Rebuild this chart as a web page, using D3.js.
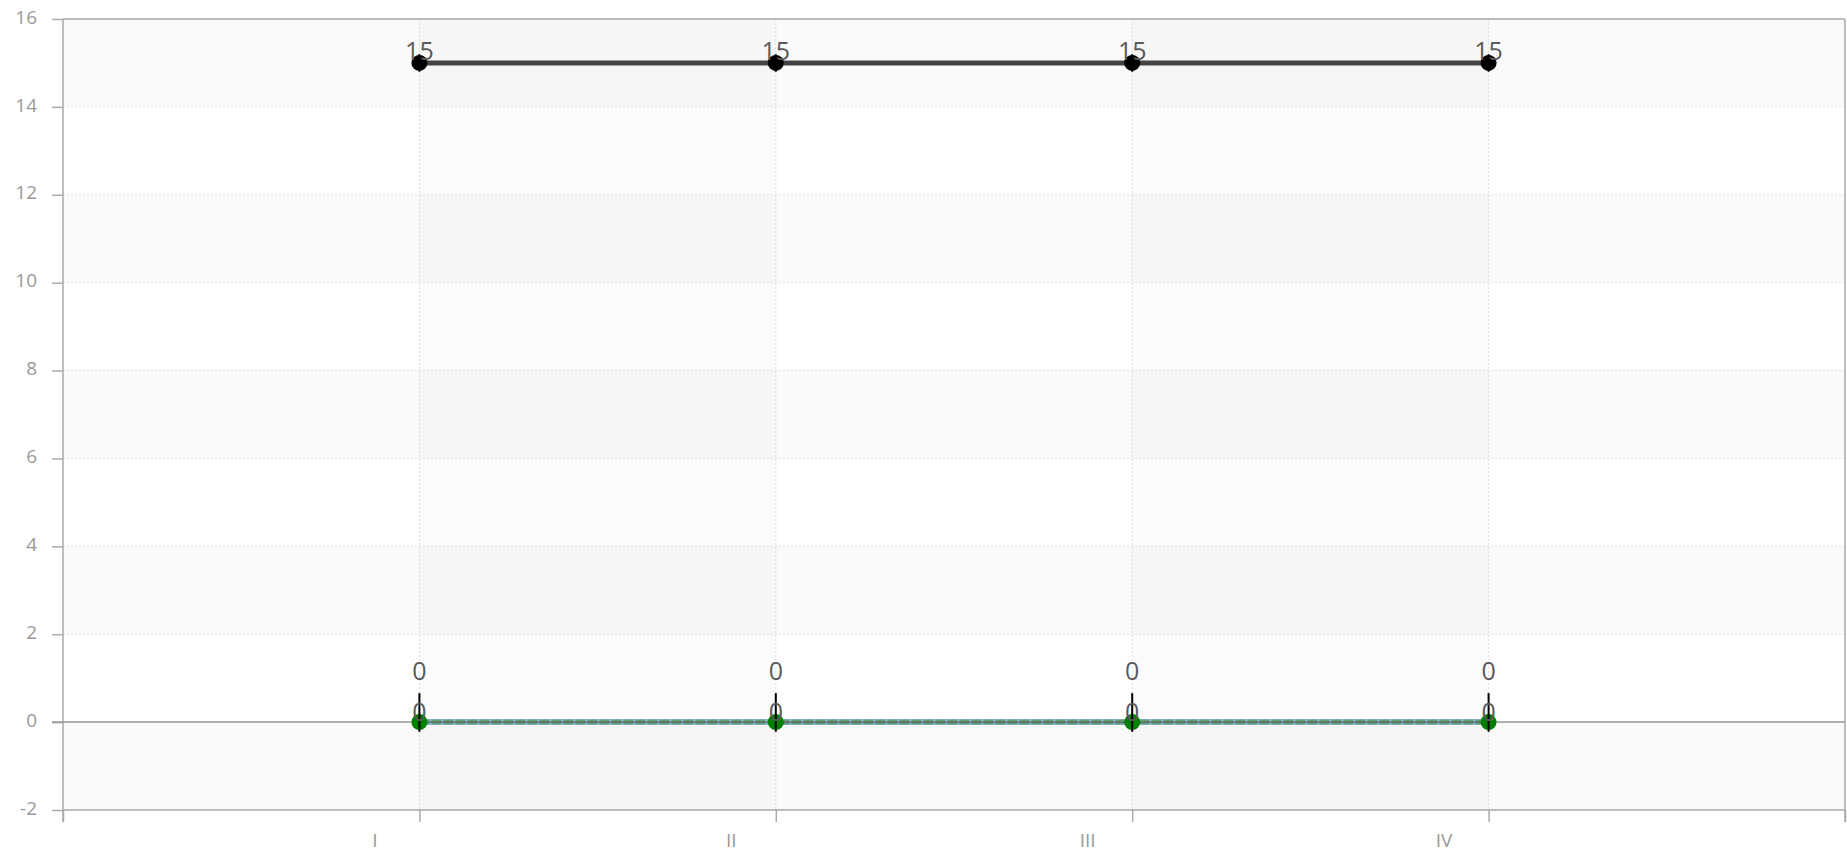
<!DOCTYPE html>
<html>
<head>
<meta charset="utf-8">
<script src="https://cdn.jsdelivr.net/npm/d3@7"></script>
<style>
    body { margin: 0; background: #fff; }
    svg { display: block; font-family: "Open Sans", sans-serif; }
</style>
</head>
<body>
<svg id="chart" width="1847" height="857"></svg>
<script>
// categories sit on x positions 1..4, the axis runs 0..5
const categories = ["I", "II", "III", "IV"];
const categoryPos = [1, 2, 3, 4];
const seriesTop = [15, 15, 15, 15];
const seriesBottom = [0, 0, 0, 0];
const errTopLow = [14.8, 14.8, 14.8, 14.8];
const errTopHigh = [15.2, 15.2, 15.2, 15.2];
const errBottomLow = [-0.22, -0.22, -0.22, -0.22];
const errBottomHigh = [0.66, 0.66, 0.66, 0.66];
const yTicks = [-2, 0, 2, 4, 6, 8, 10, 12, 14, 16];

const margin = { top: 19, right: 2, bottom: 47, left: 63 };
const width = 1847, height = 857;

const svg = d3.select("#chart");

const x = d3.scaleLinear()
    .domain([0, 5])
    .range([margin.left, width - margin.right]);
const y = d3.scaleLinear()
    .domain([-2, 16])
    .range([height - margin.bottom, margin.top]);

const plot = svg.append("g");

// horizontal stripes
plot.selectAll("rect.hband")
    .data(d3.range(yTicks.length - 1))
    .enter()
    .append("rect")
    .attr("class", "hband")
    .attr("x", x(0))
    .attr("width", x(5) - x(0))
    .attr("y", function (i) { return y(yTicks[yTicks.length - 1 - i]); })
    .attr("height", function (i) { return y(yTicks[yTicks.length - 2 - i]) - y(yTicks[yTicks.length - 1 - i]); })
    .attr("fill", "#000")
    .attr("fill-opacity", function (i) { return i % 2 === 0 ? 0.02 : 0; });

// vertical stripes
plot.selectAll("rect.vband")
    .data(d3.range(5))
    .enter()
    .append("rect")
    .attr("class", "vband")
    .attr("x", function (i) { return x(i); })
    .attr("width", function (i) { return x(i + 1) - x(i); })
    .attr("y", y(16))
    .attr("height", y(-2) - y(16))
    .attr("fill", "#000")
    .attr("fill-opacity", function (i) { return i % 2 === 1 ? 0.017 : 0; });

// dotted grid
plot.selectAll("line.hgrid")
    .data(yTicks)
    .enter()
    .append("line")
    .attr("x1", x(0)).attr("x2", x(5))
    .attr("y1", function (d) { return y(d); })
    .attr("y2", function (d) { return y(d); })
    .attr("stroke", "#ddd")
    .attr("stroke-dasharray", "2,2");
plot.selectAll("line.vgrid")
    .data(categoryPos)
    .enter()
    .append("line")
    .attr("y1", y(16)).attr("y2", y(-2))
    .attr("x1", function (d) { return x(d); })
    .attr("x2", function (d) { return x(d); })
    .attr("stroke", "#ddd")
    .attr("stroke-dasharray", "2,2");

// axes
const yAxis = d3.axisLeft(y)
    .tickValues(yTicks)
    .tickSize(11)
    .tickPadding(15)
    .tickFormat(function (d) { return String(d); });
const gy = svg.append("g")
    .attr("transform", "translate(" + x(0) + ",0)")
    .call(yAxis);
gy.select(".domain").remove();
gy.selectAll("line").attr("stroke", "#aaa").attr("stroke-width", 1.5);
gy.selectAll("text")
    .attr("fill", "#999")
    .attr("font-size", 19)
    .attr("dy", "0.22em")
    .style("font-family", "'Open Sans', sans-serif");

const xAxis = d3.axisBottom(x)
    .tickValues([0, 1, 2, 3, 4, 5])
    .tickSize(12)
    .tickFormat(function (d) { return categories[d - 1] || ""; });
const gx = svg.append("g")
    .attr("transform", "translate(0," + y(-2) + ")")
    .call(xAxis);
gx.select(".domain").remove();
gx.selectAll("line").attr("stroke", "#aaa").attr("stroke-width", 1.5);
gx.selectAll("text")
    .attr("fill", "#999")
    .attr("font-size", 19)
    .attr("x", -45)
    .attr("y", 24)
    .style("font-family", "'Open Sans', sans-serif");

// frame
const frame = svg.append("g")
    .attr("fill", "none")
    .attr("stroke", "#aaa")
    .attr("stroke-width", 1.5);
frame.append("line").attr("x1", x(0)).attr("x2", x(0)).attr("y1", y(16)).attr("y2", y(-2) + 12);
frame.append("line").attr("x1", x(5)).attr("x2", x(5)).attr("y1", y(16)).attr("y2", y(-2) + 12);
frame.append("line").attr("x1", x(0)).attr("x2", x(5)).attr("y1", y(16)).attr("y2", y(16));
frame.append("line").attr("x1", x(0)).attr("x2", x(5)).attr("y1", y(-2)).attr("y2", y(-2));
// zero line
svg.append("line")
    .attr("x1", x(0) - 11).attr("x2", x(5))
    .attr("y1", y(0)).attr("y2", y(0))
    .attr("stroke", "#999")
    .attr("stroke-width", 1.5);

const line = d3.line()
    .x(function (d, i) { return x(categoryPos[i]); })
    .y(function (d) { return y(d); });

// bottom series: blue line with green dashes over it
svg.append("path")
    .datum(seriesBottom)
    .attr("d", line)
    .attr("fill", "none")
    .attr("stroke", "#8db8e8")
    .attr("stroke-width", 6);
svg.append("path")
    .datum(seriesBottom)
    .attr("d", line)
    .attr("fill", "none")
    .attr("stroke", "#5f9a6b")
    .attr("stroke-opacity", 0.92)
    .attr("stroke-width", 5)
    .attr("stroke-dasharray", "10,2");
svg.append("path")
    .datum(seriesBottom)
    .attr("d", line)
    .attr("fill", "none")
    .attr("stroke", "#555")
    .attr("stroke-width", 1);

// top series
svg.append("path")
    .datum(seriesTop)
    .attr("d", line)
    .attr("fill", "none")
    .attr("stroke", "#444")
    .attr("stroke-width", 5);

// markers
svg.selectAll("circle.top")
    .data(seriesTop)
    .enter()
    .append("circle")
    .attr("cx", function (d, i) { return x(categoryPos[i]); })
    .attr("cy", function (d) { return y(d); })
    .attr("r", 8)
    .attr("fill", "#000");
svg.selectAll("circle.bottom")
    .data(seriesBottom)
    .enter()
    .append("circle")
    .attr("cx", function (d, i) { return x(categoryPos[i]); })
    .attr("cy", function (d) { return y(d); })
    .attr("r", 8)
    .attr("fill", "#008000");

// error bars
svg.selectAll("line.errTop")
    .data(errTopLow)
    .enter()
    .append("line")
    .attr("x1", function (d, i) { return x(categoryPos[i]); })
    .attr("x2", function (d, i) { return x(categoryPos[i]); })
    .attr("y1", function (d) { return y(d); })
    .attr("y2", function (d, i) { return y(errTopHigh[i]); })
    .attr("stroke", "#000")
    .attr("stroke-width", 2);
svg.selectAll("line.errBottom")
    .data(errBottomLow)
    .enter()
    .append("line")
    .attr("x1", function (d, i) { return x(categoryPos[i]); })
    .attr("x2", function (d, i) { return x(categoryPos[i]); })
    .attr("y1", function (d) { return y(d); })
    .attr("y2", function (d, i) { return y(errBottomHigh[i]); })
    .attr("stroke", "#000")
    .attr("stroke-width", 2);

// value labels
const labelStyle = function (sel) {
    sel.attr("text-anchor", "middle")
        .attr("fill", "#5a5a5a")
        .attr("font-size", 25)
        .style("font-family", "'Open Sans', sans-serif");
};
svg.selectAll("text.lblTop")
    .data(seriesTop)
    .enter()
    .append("text")
    .attr("x", function (d, i) { return x(categoryPos[i]); })
    .attr("y", function (d) { return y(d) - 3; })
    .text(function (d) { return d; })
    .call(labelStyle);
svg.selectAll("text.lblBottom")
    .data(seriesBottom)
    .enter()
    .append("text")
    .attr("x", function (d, i) { return x(categoryPos[i]); })
    .attr("y", function (d) { return y(d) - 1; })
    .text(function (d) { return d; })
    .call(labelStyle);
svg.selectAll("text.lblErr")
    .data(seriesBottom)
    .enter()
    .append("text")
    .attr("x", function (d, i) { return x(categoryPos[i]); })
    .attr("y", function (d, i) { return y(errBottomHigh[i]) - 13; })
    .text(function (d) { return d; })
    .call(labelStyle);
</script>
</body>
</html>
